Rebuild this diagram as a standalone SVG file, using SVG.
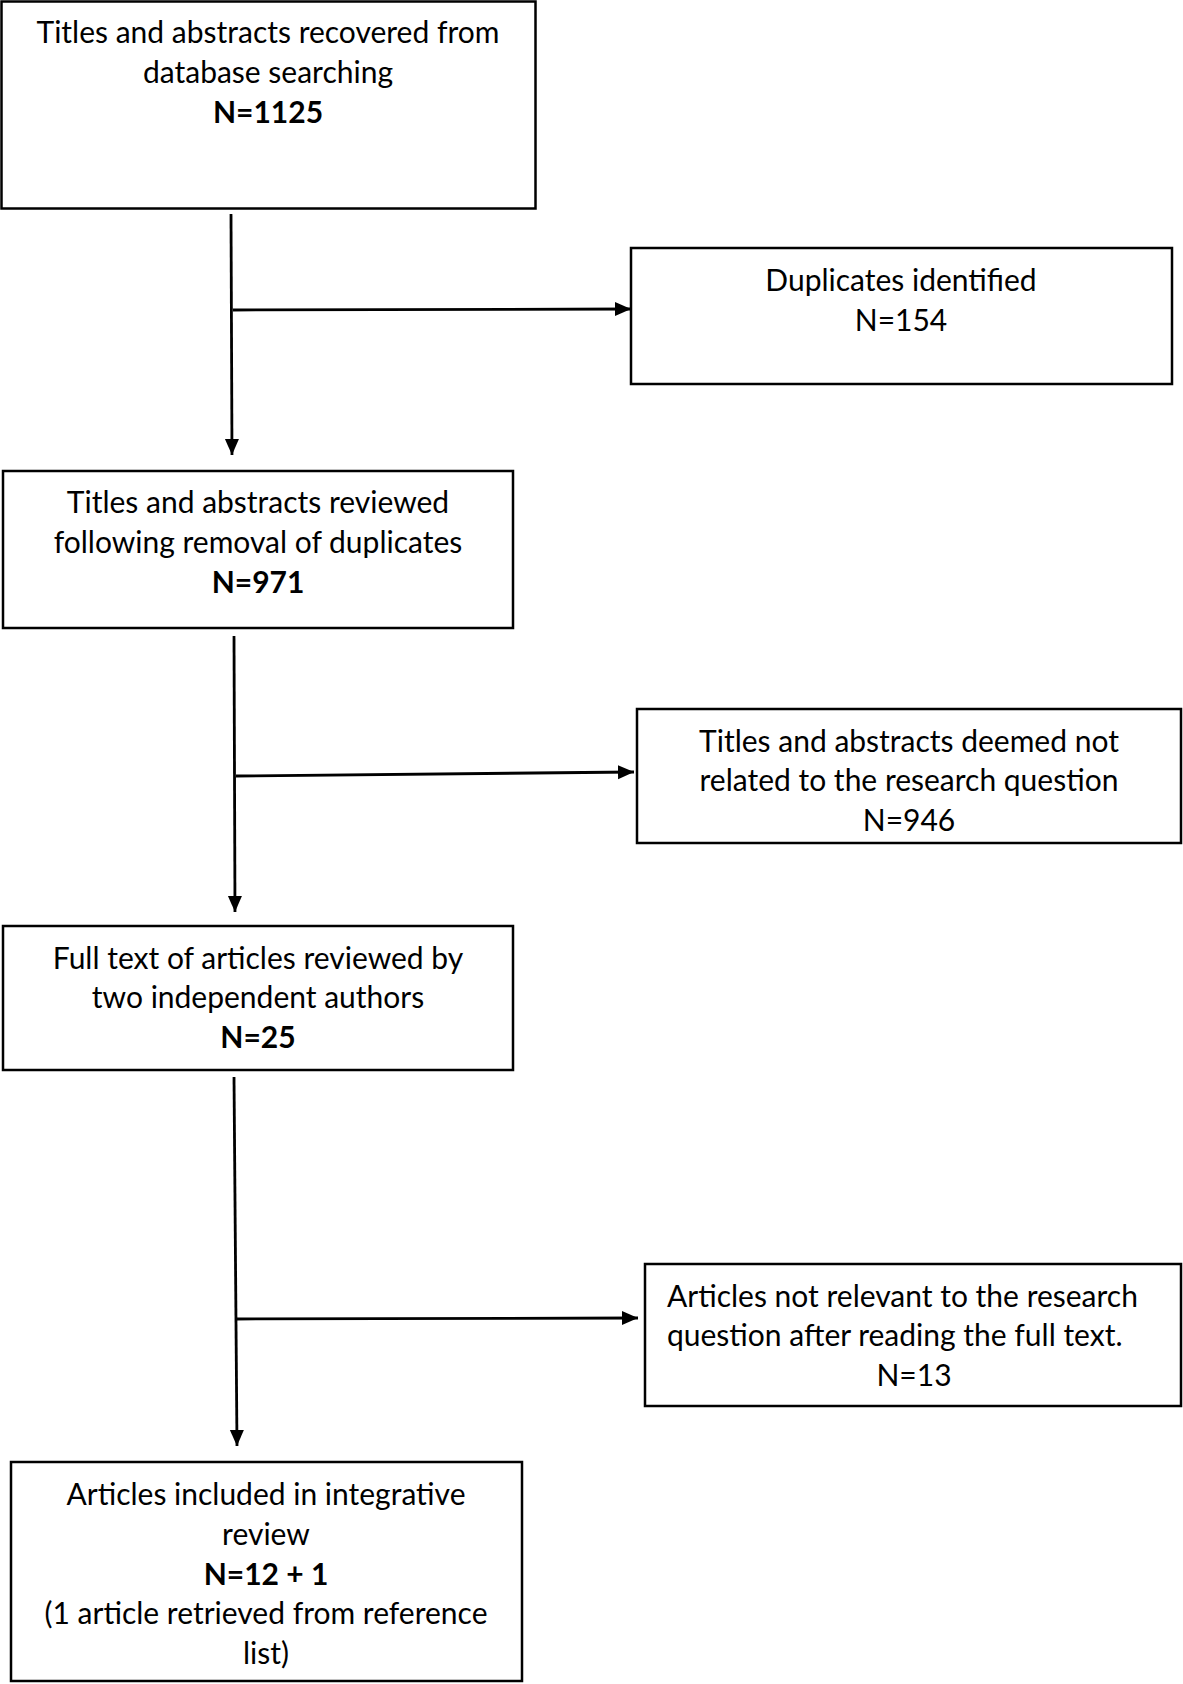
<svg xmlns="http://www.w3.org/2000/svg" width="1183" height="1684" viewBox="0 0 1183 1684">
<style>
.box{fill:#fff;stroke:#000;stroke-width:2.5}
.t{font-family:Lato,"Open Sans","Liberation Sans",sans-serif;font-size:30px;fill:#000;text-anchor:middle}
.b{font-weight:bold}
.l{text-anchor:start}
.c{stroke:#000;stroke-width:2.8;fill:none}
</style>
<defs>
<marker id="a" viewBox="0 0 16 16" refX="16" refY="8" markerWidth="16" markerHeight="16" orient="auto" markerUnits="userSpaceOnUse">
<path d="M0,1 L16,8 L0,15 Z" fill="#000"/>
</marker>
</defs>
<rect width="1183" height="1684" fill="#fff"/>
<g id="connectors">
<path class="c" d="M231,214 L232,455" marker-end="url(#a)"/>
<path class="c" d="M233,310 L631,309" marker-end="url(#a)"/>
<path class="c" d="M234,636 L235,912" marker-end="url(#a)"/>
<path class="c" d="M236,776 L634,772" marker-end="url(#a)"/>
<path class="c" d="M234,1077 L237,1446" marker-end="url(#a)"/>
<path class="c" d="M236,1319 L638,1318" marker-end="url(#a)"/>
</g>
<g id="n1">
<rect class="box" x="1.5" y="1.5" width="534" height="207"/>
<text class="t" x="268" y="43">Titles and abstracts recovered from</text>
<text class="t" x="268" y="83">database searching</text>
<text class="t b" x="268" y="123">N=1125</text>
</g>
<g id="n2">
<rect class="box" x="631" y="248" width="541" height="136"/>
<text class="t" x="901" y="291">Duplicates identified</text>
<text class="t" x="901" y="331">N=154</text>
</g>
<g id="n3">
<rect class="box" x="3" y="471" width="510" height="157"/>
<text class="t" x="258" y="513">Titles and abstracts reviewed</text>
<text class="t" x="258" y="553">following removal of duplicates</text>
<text class="t b" x="258" y="593">N=971</text>
</g>
<g id="n4">
<rect class="box" x="637" y="709" width="544" height="134"/>
<text class="t" x="909" y="752">Titles and abstracts deemed not</text>
<text class="t" x="909" y="791">related to the research question</text>
<text class="t" x="909" y="831">N=946</text>
</g>
<g id="n5">
<rect class="box" x="3" y="926" width="510" height="144"/>
<text class="t" x="258" y="969">Full text of articles reviewed by</text>
<text class="t" x="258" y="1008">two independent authors</text>
<text class="t b" x="258" y="1048">N=25</text>
</g>
<g id="n6">
<rect class="box" x="645" y="1264" width="536" height="142"/>
<text class="t l" x="667" y="1307">Articles not relevant to the research</text>
<text class="t l" x="667" y="1346">question after reading the full text.</text>
<text class="t" x="914" y="1386">N=13</text>
</g>
<g id="n7">
<rect class="box" x="11" y="1462" width="511" height="219"/>
<text class="t" x="266" y="1505">Articles included in integrative</text>
<text class="t" x="266" y="1545">review</text>
<text class="t b" x="266" y="1585">N=12 + 1</text>
<text class="t" x="266" y="1624">(1 article retrieved from reference</text>
<text class="t" x="266" y="1664">list)</text>
</g>
</svg>
